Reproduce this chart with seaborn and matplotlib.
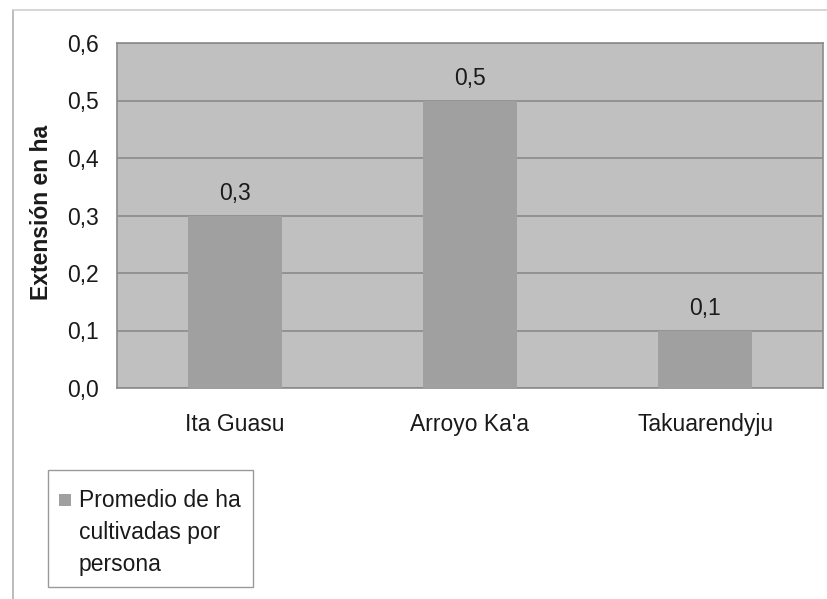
import matplotlib
matplotlib.use("Agg")
import matplotlib.pyplot as plt
import seaborn as sns
import pandas as pd
from matplotlib.lines import Line2D
from matplotlib.patches import Rectangle

categories = ["Ita Guasu", "Arroyo Ka'a", "Takuarendyju"]
values = [0.3, 0.5, 0.1]
series_name = "Promedio de ha\ncultivadas por\npersona"
yticks = [0.0, 0.1, 0.2, 0.3, 0.4, 0.5, 0.6]

sns.set_style("white")
plt.rcParams['font.family'] = ['Liberation Sans', 'DejaVu Sans']

df = pd.DataFrame({"cat": categories, "val": values})
FS = 16.5
BAR = "#a0a0a0"
TXT = "#1a1a1a"

fig = plt.figure(figsize=(8.28, 5.99), dpi=100)
W, H = 828, 599
ax = fig.add_axes([117 / W, 1 - 388 / H, (823 - 117) / W, (388 - 43) / H])
ax.set_facecolor("#c0c0c0")

sns.barplot(data=df, x="cat", y="val", color=BAR, width=0.4,
            saturation=1, ax=ax, zorder=3, edgecolor="none")

ax.set_ylim(0, 0.6)
ax.set_xlim(-0.5, 2.5)
ax.set_yticks(yticks)
ax.set_yticklabels([f"{t:.1f}".replace(".", ",") for t in yticks], fontsize=FS,
                   color=TXT)
ax.tick_params(axis="y", length=0, pad=13)
ax.tick_params(axis="x", length=0, pad=18, labelsize=FS, labelcolor=TXT)
ax.yaxis.grid(True, color="#8a8a8a", linewidth=1.2, zorder=1)
ax.set_axisbelow(True)
for s in ax.spines.values():
    s.set_color("#8a8a8a")
    s.set_linewidth(1.2)
ax.set_xlabel("")
ax.set_ylabel("Extensión en ha", fontsize=FS, fontweight="bold", color=TXT)
ax.yaxis.set_label_coords((53 - 117) / (823 - 117), (388 - 212) / (388 - 43))

for i, v in enumerate(values):
    ax.annotate(f"{v:.1f}".replace(".", ","), (i, v), xytext=(0, 11),
                textcoords="offset points", ha="center", va="baseline",
                fontsize=FS, color=TXT)

# legend box drawn manually (handle aligned with first text line)
fig.add_artist(Rectangle((48 / W, 1 - 587 / H), (253 - 48) / W, (587 - 470) / H,
                         transform=fig.transFigure, facecolor="white",
                         edgecolor="#9a9a9a", lw=1.0))
fig.add_artist(Rectangle((59 / W, 1 - 506 / H), 12 / W, 12 / H,
                         transform=fig.transFigure, facecolor=BAR, edgecolor="none"))
fig.text(79 / W, 1 - 489 / H, series_name, fontsize=FS, va="top", ha="left",
         linespacing=1.5, color=TXT)

# outer border lines (left and top)
fig.add_artist(Line2D([13 / W, 13 / W], [0, 1 - 10 / H], color="#b0b0b0", lw=1.2,
                      transform=fig.transFigure))
fig.add_artist(Line2D([13 / W, 1], [1 - 10 / H, 1 - 10 / H], color="#d0d0d0", lw=1.2,
                      transform=fig.transFigure))

fig.savefig("out.png", dpi=100)
